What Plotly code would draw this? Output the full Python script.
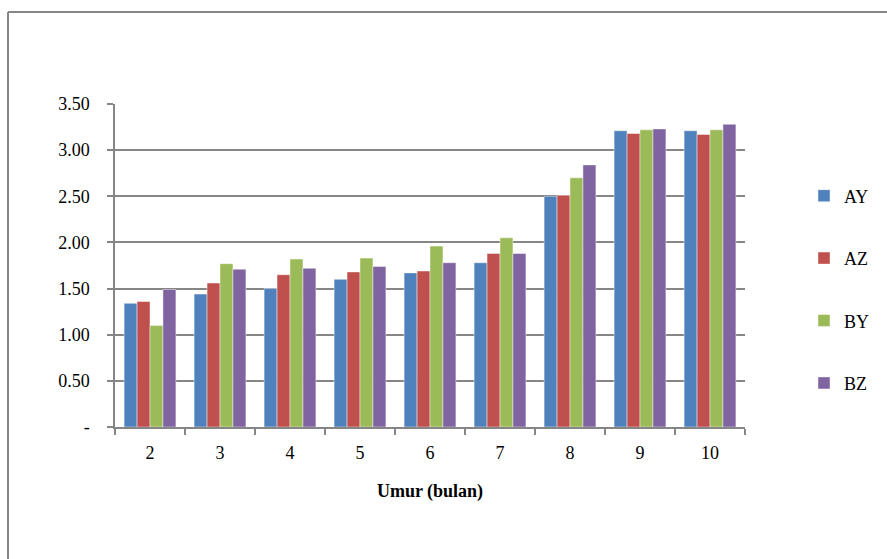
import plotly.graph_objects as go

# Age in months (x categories)
umur = ["2", "3", "4", "5", "6", "7", "8", "9", "10"]

# Series values per treatment
ay = [1.34, 1.44, 1.50, 1.60, 1.67, 1.78, 2.50, 3.21, 3.21]
az = [1.36, 1.56, 1.65, 1.68, 1.69, 1.88, 2.51, 3.18, 3.17]
by = [1.10, 1.77, 1.82, 1.83, 1.96, 2.05, 2.70, 3.22, 3.22]
bz = [1.49, 1.71, 1.72, 1.74, 1.78, 1.88, 2.84, 3.23, 3.28]

series_names = ["AY", "AZ", "BY", "BZ"]
series_colors = ["#4F81BD", "#C0504D", "#9BBB59", "#8064A2"]

y_tickvals = [0, 0.5, 1.0, 1.5, 2.0, 2.5, 3.0, 3.5]
y_ticktext = ["-", "0.50", "1.00", "1.50", "2.00", "2.50", "3.00", "3.50"]

FONT = "Liberation Serif, Times New Roman, serif"
GRID = "#868686"

fig = go.Figure()
for name, vals, col in zip(series_names, [ay, az, by, bz], series_colors):
    fig.add_trace(go.Bar(
        x=umur, y=vals, name=name, legendgroup=name,
        marker=dict(color=col, line=dict(color="rgba(255,255,255,0.55)", width=0.8)),
    ))

W, H = 887, 559
L, R, T, B = 115, 142, 104, 132
pw, ph = W - L - R, H - T - B

def px_x(p):
    return (p - L) / pw

def px_y(p):
    return (H - B - p) / ph

fig.update_layout(
    width=W, height=H,
    margin=dict(l=L, r=R, t=T, b=B),
    paper_bgcolor="white", plot_bgcolor="white",
    font=dict(family=FONT, size=18, color="black"),
    barmode="group", bargap=0.26, bargroupgap=0,
    showlegend=True,
    legend=dict(
        x=px_x(804), xanchor="left", y=px_y(289.5), yanchor="middle",
        traceorder="grouped", tracegroupgap=36,
        font=dict(family=FONT, size=18, color="black"),
        bgcolor="rgba(0,0,0,0)",
    ),
    xaxis=dict(
        type="category",
        showline=True, linecolor=GRID, linewidth=1.5,
        ticks="outside", tickson="boundaries", ticklen=6, tickcolor=GRID, tickwidth=1.5,
        showgrid=False,
        ticklabelstandoff=9,
        title=dict(text="<b>Umur (bulan)</b>", font=dict(family=FONT, size=18), standoff=22),
    ),
    yaxis=dict(
        range=[0, 3.5],
        tickvals=y_tickvals, ticktext=y_ticktext,
        showline=True, linecolor=GRID, linewidth=1.5,
        ticks="outside", ticklen=6, tickcolor=GRID, tickwidth=1.5,
        showgrid=True, gridcolor=GRID, gridwidth=1.5,
        zeroline=False,
        ticklabelstandoff=14,
    ),
    shapes=[
        dict(type="line", xref="paper", yref="paper",
             x0=px_x(8), x1=px_x(900), y0=px_y(12), y1=px_y(12),
             line=dict(color=GRID, width=2)),
        dict(type="line", xref="paper", yref="paper",
             x0=px_x(8), x1=px_x(8), y0=px_y(12), y1=px_y(580),
             line=dict(color=GRID, width=2)),
    ],
)

fig.write_html("out.html")
